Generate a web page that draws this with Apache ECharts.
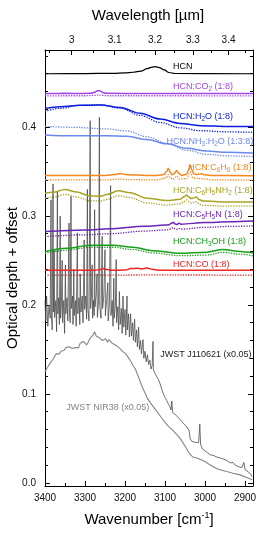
<!DOCTYPE html>
<html><head><meta charset="utf-8">
<script src="https://cdn.jsdelivr.net/npm/echarts@6/dist/echarts.min.js"></script>
<style>html,body{margin:0;padding:0;background:#fff}#c{width:261px;height:542px}</style>
</head><body><div id="c"></div>
<script>
// ---- data (wavenumber cm-1, optical depth + offset) ----
const HCN = [[3400,0.4598],[3300,0.4600],[3230,0.4603],[3200,0.4608],[3180,0.4615],[3160,0.4628],[3145,0.4655],[3132,0.4673],[3124,0.4678],[3114,0.4668],[3102,0.4642],[3090,0.4612],[3075,0.4601],[2880,0.4598]];
const CO2_s = [[3400,0.4376],[3350,0.4378],[3300,0.4377],[3285,0.4379],[3276,0.4390],[3268,0.4408],[3262,0.4404],[3254,0.4385],[3245,0.4378],[3150,0.4376],[3000,0.4377],[2880,0.4376]];
const CO2_d = [[3400,0.4350],[3300,0.4351],[3272,0.4356],[3266,0.4362],[3258,0.4355],[3240,0.4351],[2880,0.4350]];
const H2O_s = [[3400,0.4209],[3362,0.4228],[3312,0.4243],[3262,0.4247],[3212,0.4220],[3162,0.4153],[3112,0.4089],[3062,0.4040],[3012,0.4015],[2945,0.4004],[2880,0.4004]];
const H2O_d = [[3400,0.4175],[3362,0.4210],[3312,0.4243],[3262,0.4250],[3212,0.4212],[3162,0.4130],[3112,0.4050],[3062,0.3990],[3012,0.3958],[2945,0.3945],[2880,0.3940]];
const NH3_s = [[3400,0.3910],[3330,0.3900],[3245,0.3900],[3195,0.3896],[3145,0.3858],[3095,0.3810],[3045,0.3760],[2995,0.3730],[2945,0.3715],[2880,0.3707]];
const NH3_d = [[3400,0.4007],[3330,0.3996],[3245,0.3978],[3195,0.3955],[3145,0.3890],[3095,0.3815],[3045,0.3738],[2995,0.3692],[2945,0.3675],[2880,0.3668]];
const C6H6_s = [[3400,0.3455],[3250,0.3455],[3225,0.3465],[3212,0.3478],[3195,0.3462],[3120,0.3455],[3103,0.3465],[3096,0.3500],[3092,0.3535],[3087,0.3490],[3082,0.3462],[3076,0.3480],[3071,0.3510],[3066,0.3480],[3058,0.3455],[3046,0.3470],[3041,0.3520],[3037,0.3573],[3033,0.3520],[3028,0.3475],[3020,0.3465],[3010,0.3475],[3000,0.3462],[2980,0.3455],[2880,0.3452]];
const C6H6_d = [[3400,0.3405],[3250,0.3405],[3212,0.3415],[3195,0.3408],[3120,0.3405],[3096,0.3430],[3092,0.3465],[3087,0.3430],[3080,0.3410],[3071,0.3445],[3064,0.3415],[3046,0.3420],[3037,0.3495],[3030,0.3425],[3010,0.3418],[2980,0.3405],[2880,0.3402]];
const ANI_s = [[3400,0.3255],[3380,0.3265],[3350,0.3298],[3321,0.3268],[3287,0.3225],[3260,0.3222],[3246,0.3240],[3217,0.3282],[3187,0.3262],[3146,0.3200],[3096,0.3173],[3062,0.3188],[3052,0.3215],[3046,0.3236],[3040,0.3210],[3034,0.3195],[3027,0.3205],[3022,0.3212],[3015,0.3185],[3005,0.3168],[2946,0.3158],[2880,0.3158]];
const ANI_d = [[3400,0.3200],[3380,0.3210],[3350,0.3243],[3321,0.3213],[3287,0.3170],[3260,0.3168],[3246,0.3185],[3217,0.3227],[3187,0.3207],[3146,0.3147],[3096,0.3122],[3062,0.3137],[3052,0.3162],[3046,0.3180],[3040,0.3158],[3034,0.3145],[3027,0.3153],[3022,0.3160],[3015,0.3135],[3005,0.3118],[2946,0.3110],[2880,0.3110]];
const PYR_s = [[3400,0.2824],[3300,0.2843],[3240,0.2855],[3150,0.2885],[3100,0.2897],[3090,0.2902],[3084,0.2918],[3079,0.2928],[3075,0.2910],[3070,0.2905],[3065,0.2917],[3060,0.2908],[3000,0.2925],[2940,0.2936],[2880,0.2944]];
const PYR_d = [[3400,0.2768],[3300,0.2788],[3240,0.2800],[3150,0.2830],[3100,0.2842],[3090,0.2846],[3084,0.2862],[3079,0.2870],[3075,0.2854],[3070,0.2850],[3065,0.2860],[3060,0.2852],[3000,0.2872],[2940,0.2882],[2880,0.2888]];
const MEOH_s = [[3400,0.2599],[3346,0.2637],[3287,0.2672],[3230,0.2672],[3180,0.2648],[3130,0.2610],[3062,0.2581],[2996,0.2593],[2955,0.2624],[2912,0.2600],[2880,0.2583]];
const MEOH_d = [[3400,0.2578],[3346,0.2615],[3287,0.2648],[3230,0.2648],[3180,0.2622],[3130,0.2585],[3062,0.2553],[2996,0.2560],[2955,0.2592],[2912,0.2570],[2880,0.2552]];
const CO_s = [[3400,0.2390],[3275,0.2390],[3262,0.2398],[3254,0.2408],[3245,0.2397],[3230,0.2390],[3200,0.2392],[3185,0.2408],[3170,0.2413],[3158,0.2405],[3146,0.2415],[3132,0.2400],[3115,0.2391],[2880,0.2390]];
const CO_d = [[3400,0.2335],[3200,0.2336],[3150,0.2337],[2880,0.2335]];
const J110621 = [[3400,0.205],[3398,0.182],[3396,0.210],[3393,0.176],[3390,0.200],[3387,0.185],[3385,0.318],[3384,0.190],[3382,0.172],[3380,0.336],[3379,0.192],[3377,0.262],[3376,0.186],[3373,0.205],[3371,0.170],[3369,0.328],[3368,0.190],[3366,0.208],[3364,0.178],[3362,0.300],[3361,0.185],[3359,0.200],[3357,0.250],[3356,0.180],[3353,0.205],[3351,0.168],[3349,0.245],[3348,0.190],[3345,0.208],[3343,0.182],[3340,0.292],[3339,0.192],[3337,0.180],[3335,0.322],[3334,0.196],[3331,0.210],[3330,0.178],[3328,0.240],[3327,0.188],[3324,0.205],[3322,0.176],[3319,0.281],[3318,0.190],[3315,0.208],[3313,0.178],[3312,0.235],[3310,0.192],[3307,0.210],[3305,0.180],[3302,0.273],[3301,0.195],[3298,0.210],[3296,0.184],[3294,0.330],[3293,0.196],[3290,0.182],[3287,0.407],[3286,0.196],[3284,0.210],[3282,0.245],[3281,0.185],[3279,0.205],[3277,0.188],[3276,0.307],[3275,0.198],[3272,0.212],[3270,0.235],[3269,0.186],[3266,0.205],[3264,0.411],[3263,0.198],[3260,0.185],[3257,0.277],[3256,0.196],[3253,0.210],[3250,0.262],[3249,0.188],[3246,0.205],[3243,0.225],[3242,0.182],[3239,0.200],[3236,0.334],[3235,0.188],[3232,0.205],[3230,0.176],[3228,0.230],[3227,0.185],[3224,0.200],[3222,0.251],[3221,0.180],[3218,0.198],[3216,0.172],[3214,0.215],[3212,0.178],[3209,0.196],[3207,0.168],[3205,0.210],[3203,0.175],[3200,0.195],[3198,0.166],[3195,0.210],[3194,0.172],[3191,0.190],[3189,0.164],[3186,0.190],[3184,0.165],[3181,0.180],[3179,0.160],[3176,0.184],[3174,0.158],[3171,0.172],[3169,0.153],[3166,0.175],[3164,0.150],[3161,0.160],[3159,0.145],[3155,0.161],[3153,0.140],[3150,0.148],[3147,0.136],[3144,0.144],[3141,0.133],[3138,0.138],[3135,0.128],[3132,0.132],[3130,0.159],[3129,0.127],[3126,0.124],[3120,0.119],[3116,0.116],[3112,0.111],[3108,0.105],[3104,0.100],[3100,0.096],[3096,0.093],[3092,0.089],[3088,0.086],[3085,0.082],[3083,0.092],[3081,0.079],[3075,0.077],[3068,0.074],[3060,0.070],[3052,0.066],[3046,0.063],[3040,0.059],[3037,0.050],[3034,0.047],[3028,0.046],[3022,0.0455],[3016,0.045],[3013,0.066],[3011,0.043],[3006,0.038],[3000,0.036],[2994,0.034],[2987,0.0315],[2980,0.031],[2975,0.033],[2970,0.029],[2962,0.028],[2955,0.027],[2950,0.029],[2945,0.025],[2937,0.0225],[2930,0.023],[2925,0.020],[2921,0.022],[2915,0.018],[2908,0.017],[2903,0.023],[2900,0.015],[2895,0.0146],[2888,0.011],[2882,0.007]];
const NIR38 = [[3400,0.125],[3396,0.128],[3392,0.131],[3388,0.134],[3384,0.136],[3380,0.139],[3376,0.141],[3372,0.145],[3368,0.146],[3364,0.145],[3360,0.148],[3356,0.150],[3352,0.149],[3348,0.152],[3344,0.150],[3340,0.153],[3336,0.155],[3332,0.151],[3328,0.149],[3324,0.152],[3320,0.154],[3316,0.152],[3312,0.157],[3308,0.156],[3304,0.159],[3300,0.158],[3296,0.155],[3292,0.158],[3288,0.162],[3284,0.161],[3280,0.166],[3276,0.170],[3272,0.165],[3268,0.167],[3264,0.163],[3260,0.165],[3256,0.160],[3252,0.159],[3248,0.162],[3244,0.158],[3240,0.161],[3236,0.160],[3232,0.157],[3228,0.158],[3224,0.155],[3220,0.153],[3215,0.152],[3210,0.150],[3204,0.147],[3198,0.145],[3192,0.141],[3186,0.137],[3180,0.132],[3174,0.128],[3168,0.121],[3162,0.114],[3156,0.107],[3150,0.101],[3144,0.095],[3138,0.091],[3130,0.086],[3120,0.080],[3110,0.074],[3100,0.068],[3090,0.063],[3080,0.059],[3070,0.054],[3062,0.050],[3055,0.045],[3048,0.040],[3042,0.035],[3037,0.032],[3030,0.029],[3020,0.028],[3010,0.026],[3000,0.024],[2990,0.021],[2980,0.0185],[2970,0.016],[2960,0.0145],[2946,0.0127],[2930,0.0108],[2912,0.009],[2896,0.006],[2882,0.0035]];
// tick values
const xMajor = [2900,3000,3100,3200,3300,3400];
const xMinor = [2950,3050,3150,3250,3350];
const wlMajor = [3.0,3.1,3.2,3.3,3.4];
const wlMinor = [2.95,3.05,3.15,3.25,3.35,3.45];
const yMajor = [0.0,0.1,0.2,0.3,0.4];
const yMinor = [0.02,0.04,0.06,0.08,0.12,0.14,0.16,0.18,0.22,0.24,0.26,0.28,0.32,0.34,0.36,0.38,0.42,0.44,0.46,0.48];

const FONT = "'Liberation Sans', Arial, Helvetica, sans-serif";
const XMIN = 2880, XMAX = 3400, YMIN = -0.0035, YMAX = 0.4865;
const chart = echarts.init(document.getElementById('c'), null, {renderer:'canvas'});

function xa(pos, ticks, len, labels, fmt, showLine){
  return {type:'value', position:pos, min:XMIN, max:XMAX, inverse:true,
    axisLine:{show:showLine, onZero:false, lineStyle:{color:'#000', width:1}},
    axisTick:{show:true, inside:true, length:len, customValues:ticks, lineStyle:{color:'#000', width:1}},
    axisLabel:{show:!!labels, customValues:labels||[], formatter:fmt, color:'#111', fontSize:10, fontFamily:FONT, margin:pos==='top'?5:7},
    splitLine:{show:false}};
}
function ya(pos, ticks, len, labels, showLine){
  return {type:'value', position:pos, min:YMIN, max:YMAX,
    axisLine:{show:showLine, onZero:false, lineStyle:{color:'#000', width:1}},
    axisTick:{show:true, inside:true, length:len, customValues:ticks, lineStyle:{color:'#000', width:1}},
    axisLabel:{show:!!labels, customValues:labels||[], formatter:v=>v.toFixed(1), color:'#111', fontSize:10, fontFamily:FONT, margin:9},
    splitLine:{show:false}};
}
const wn = l => 1e4/l;
function ln(data, color, width, dotted, smooth){
  return {type:'line', data:data, xAxisIndex:0, yAxisIndex:0, symbol:'none', silent:true,
    smooth:smooth?0.35:false, smoothMonotone:'x',
    lineStyle:{color:color, width:width, type: dotted?[1.3,1.3]:'solid'}, z: dotted?2:3};
}
const C = {hcn:'#000000', co2:'#a446e4', h2o:'#0a1ee0', nh3:'#6a88ee', c6h6:'#f5861c', ani:'#a8a424', pyr:'#6a24b8', meoh:'#18a018', co:'#f02424', j:'#4d4d4d', n:'#858585'};
const option = {
  animation:false,
  grid:{left:45, right:8, top:50, bottom:56},
  xAxis:[
    xa('bottom', xMajor, 5, xMajor, v=>String(v), true),
    xa('bottom', xMinor, 3, null, null, false),
    xa('top', wlMajor.map(wn), 5, wlMajor.map(wn), v=>String(Math.round(1e5/v)/10), true),
    xa('top', wlMinor.map(wn), 3, null, null, false)
  ],
  yAxis:[
    ya('left', yMajor, 5, yMajor, true),
    ya('left', yMinor, 3, null, false),
    ya('right', yMajor, 5, null, true),
    ya('right', yMinor, 3, null, false)
  ],
  series:[
    ln(NIR38, C.n, 1.1, false, false),
    ln(J110621, C.j, 0.8, false, false),
    ln(HCN, C.hcn, 1.2, false, true),
    ln(CO2_s, C.co2, 1.5, false, true), ln(CO2_d, C.co2, 1.3, true, true),
    ln(H2O_s, C.h2o, 1.5, false, true), ln(H2O_d, C.h2o, 1.3, true, true),
    ln(NH3_s, C.nh3, 1.5, false, true), ln(NH3_d, C.nh3, 1.3, true, true),
    ln(C6H6_s, C.c6h6, 1.5, false, true), ln(C6H6_d, C.c6h6, 1.3, true, true),
    ln(ANI_s, C.ani, 1.5, false, true), ln(ANI_d, C.ani, 1.3, true, true),
    ln(PYR_s, C.pyr, 1.5, false, true), ln(PYR_d, C.pyr, 1.3, true, true),
    ln(MEOH_s, C.meoh, 1.5, false, true), ln(MEOH_d, C.meoh, 1.3, true, true),
    ln(CO_s, C.co, 1.5, false, true), ln(CO_d, C.co, 1.3, true, true)
  ]
};
chart.setOption(option);

// labels: [rich text, wavenumber of left edge, y value of middle, colour]
const labels = [
  ['HCN', 3080, 0.4674, C.hcn],
  ['HCN:CO{s|2} (1:8)', 3080, 0.4449, C.co2],
  ['HCN:H{s|2}O (1:8)', 3080, 0.4112, C.h2o],
  ['HCN:NH{s|3}:H{s|2}O (1:3:8)', 3096, 0.3831, C.nh3],
  ['HCN:C{s|6}H{s|6} (1:8)', 3042, 0.3539, C.c6h6],
  ['HCN:C{s|6}H{s|5}NH{s|2} (1:8)', 3080, 0.3281, C.ani],
  ['HCN:C{s|5}H{s|5}N (1:8)', 3080, 0.3011, C.pyr],
  ['HCN:CH{s|3}OH (1:8)', 3080, 0.2708, C.meoh],
  ['HCN:CO (1:8)', 3080, 0.2449, C.co],
  ['JWST J110621 (x0.05)', 3112, 0.1438, '#1a1a1a'],
  ['JWST NIR38 (x0.05)', 3347, 0.0843, C.n]
];
const rich = {s:{fontSize:6.5, fontFamily:FONT, lineHeight:7, verticalAlign:'bottom'}};
const g = labels.map(l => {
  const p = chart.convertToPixel({xAxisIndex:0, yAxisIndex:0}, [l[1], l[2]]);
  return {type:'text', x:p[0], y:p[1], silent:true, z:50,
    style:{text:l[0], rich:rich, fill:l[3], fontSize:9, fontFamily:FONT, lineHeight:12, align:'left', verticalAlign:'middle'}};
});
g.push({type:'text', x:148, y:16, style:{text:'Wavelength [\u00b5m]', fill:'#000', fontSize:15, fontFamily:FONT, align:'center', verticalAlign:'middle'}});
g.push({type:'text', x:149, y:520, style:{text:'Wavenumber [cm{p|-1}]', rich:{p:{fontSize:9, fontFamily:FONT, lineHeight:10, verticalAlign:'top'}}, fill:'#000', fontSize:15, fontFamily:FONT, lineHeight:18, align:'center', verticalAlign:'middle'}});
g.push({type:'text', x:13, y:278, rotation:Math.PI/2, style:{text:'Optical depth + offset', fill:'#000', fontSize:15, fontFamily:FONT, align:'center', verticalAlign:'middle'}});
chart.setOption({graphic:g});
</script></body></html>
